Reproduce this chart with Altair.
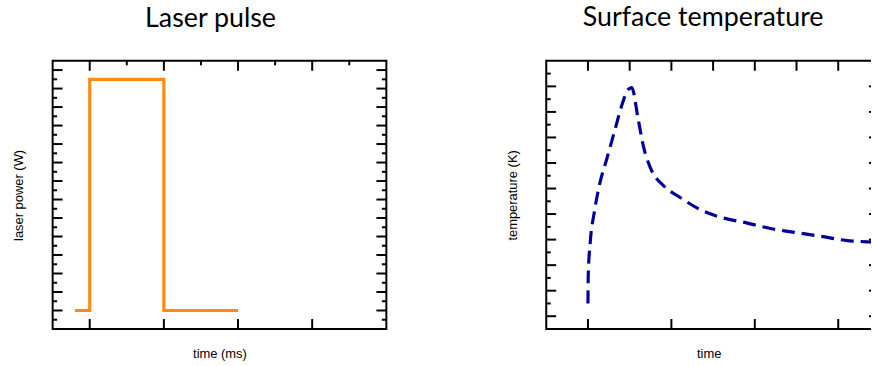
import altair as alt
import pandas as pd

# ---- laser pulse (arbitrary units) ----
pulse_t = [-0.4, 0, 0, 2, 2, 4]
pulse_p = [2, 2, 27, 27, 2, 2]

# ---- surface temperature (arbitrary units) ----
temp_t = [1.0, 1.007, 1.055, 1.15, 1.27, 1.45, 1.63, 1.83, 1.95, 2.05,
          2.2, 2.33, 2.5, 2.82, 3.21, 3.69, 4.17, 4.8, 5.4, 5.91, 6.59, 7.18, 7.79, 8.0]
temp_k = [2.0, 4.2, 6.8, 9.1, 11.2, 13.3, 15.4, 17.7, 18.7, 18.9,
          16.5, 14.3, 12.6, 11.2, 10.3, 9.35, 8.76, 8.31, 7.85, 7.59, 7.25, 6.94, 6.81, 6.78]

# tick positions (no labels are shown)
pulse_x_major = [0, 2, 4, 6]
pulse_x_minor = [1, 3, 5, 7]
pulse_y_major = list(range(2, 29, 2))
pulse_y_minor = list(range(1, 28, 2))

temp_x_top = [1, 2, 3, 4, 5, 6, 7]
temp_x_bottom = [1, 3, 5, 7]
temp_y_major = list(range(1, 20, 2))
temp_y_minor = list(range(2, 21, 2))

W, H = 336, 270
W_RIGHT = 327          # the temperature panel runs off the right edge of the page
MAJOR, MINOR = 10, 4.5
AXIS_FONT = "Liberation Sans"
TITLE_FONT = "Lato"


def axis_title(title, pad):
    return alt.Axis(title=title, labels=False, ticks=False, domain=False, grid=False,
                    titleFont=AXIS_FONT, titleFontSize=13, titleFontWeight="normal",
                    titleColor="#000000", titlePadding=pad)


def tick_layers(x_top, x_bottom, y_left, y_right, xscale, yscale, xaxis, yaxis, width):
    """Inward-pointing ticks on the frame; each entry is (values, length)."""
    layers = []

    def xrule(vals, y0, y1):
        df = pd.DataFrame({"t": vals})
        return alt.Chart(df).mark_rule(color="black", strokeWidth=2).encode(
            x=alt.X("t:Q", scale=xscale, axis=xaxis), y=alt.value(y0), y2=alt.value(y1))

    def yrule(vals, x0, x1):
        df = pd.DataFrame({"v": vals})
        return alt.Chart(df).mark_rule(color="black", strokeWidth=2).encode(
            y=alt.Y("v:Q", scale=yscale, axis=yaxis), x=alt.value(x0), x2=alt.value(x1))

    for vals, length in x_top:
        layers.append(xrule(vals, 0, length))
    for vals, length in x_bottom:
        layers.append(xrule(vals, H, H - length))
    for vals, length in y_left:
        layers.append(yrule(vals, 0, length))
    for vals, length in y_right:
        layers.append(yrule(vals, width, width - length))
    return layers


def panel_title(text, dx):
    return alt.TitleParams(text=text, font=TITLE_FONT, fontSize=27, fontWeight="normal",
                           color="#000000", anchor="middle", frame="group",
                           baseline="alphabetic", offset=6, dx=dx)


# left panel: laser pulse
px_scale = alt.Scale(domain=[-1, 8], nice=False, zero=False)
py_scale = alt.Scale(domain=[0, 29], nice=False, zero=False)
px_axis = axis_title("time (ms)", 19)
py_axis = axis_title("laser power (W)", 27)
pulse_df = pd.DataFrame({"t": pulse_t, "v": pulse_p, "o": range(len(pulse_t))})
pulse_line = alt.Chart(pulse_df).mark_line(color="#ff8a12", strokeWidth=3.2, strokeJoin="miter").encode(
    x=alt.X("t:Q", scale=px_scale, axis=px_axis),
    y=alt.Y("v:Q", scale=py_scale, axis=py_axis),
    order="o:Q",
)
pulse_y_ticks = [(pulse_y_major, MAJOR), (pulse_y_minor, MINOR)]
left = alt.layer(
    pulse_line,
    *tick_layers([(pulse_x_major, MAJOR), (pulse_x_minor, MINOR)],
                 [(pulse_x_major, MAJOR)],
                 pulse_y_ticks, pulse_y_ticks,
                 px_scale, py_scale, px_axis, py_axis, W),
).properties(width=W, height=H, title=panel_title("Laser pulse", -9),
             view=alt.ViewBackground(stroke="black", strokeWidth=2))

# right panel: surface temperature (its right border lies just past the page edge)
tx_scale = alt.Scale(domain=[0, W_RIGHT / 42.0], nice=False, zero=False)
ty_scale = alt.Scale(domain=[0, 21], nice=False, zero=False)
tx_axis = axis_title("time", 19)
ty_axis = axis_title("temperature (K)", 27)
temp_df = pd.DataFrame({"t": temp_t, "v": temp_k, "o": range(len(temp_t))})
temp_line = alt.Chart(temp_df).mark_line(color="#00009a", strokeWidth=3.2, strokeDash=[13, 7],
                                         interpolate="monotone", clip=True).encode(
    x=alt.X("t:Q", scale=tx_scale, axis=tx_axis),
    y=alt.Y("v:Q", scale=ty_scale, axis=ty_axis),
    order="o:Q",
)
frame_df = pd.DataFrame({"a": [0]})
frame = alt.Chart(frame_df).mark_rule(color="black", strokeWidth=2)
frame_left = frame.encode(x=alt.value(0), y=alt.value(-1), y2=alt.value(H + 1))
frame_top = frame.encode(y=alt.value(0), x=alt.value(0), x2=alt.value(W_RIGHT))
frame_bottom = frame.encode(y=alt.value(H), x=alt.value(0), x2=alt.value(W_RIGHT))
right = alt.layer(
    temp_line, frame_left, frame_top, frame_bottom,
    *tick_layers([(temp_x_top, MAJOR)],
                 [(temp_x_bottom, MAJOR)],
                 [(temp_y_major, MAJOR), (temp_y_minor, MINOR)],
                 [(temp_y_major, 2)],
                 tx_scale, ty_scale, tx_axis, ty_axis, W_RIGHT),
).properties(width=W_RIGHT, height=H, title=panel_title("Surface temperature", -10 + (W - W_RIGHT) / 2),
             view=alt.ViewBackground(stroke="transparent", strokeWidth=0))

chart = alt.hconcat(left, right, spacing=119).properties(
    padding={"left": 12, "top": 3, "right": 0, "bottom": 0},
    background="white",
)

chart.save("out.html", embed_options={"renderer": "svg", "actions": False})
